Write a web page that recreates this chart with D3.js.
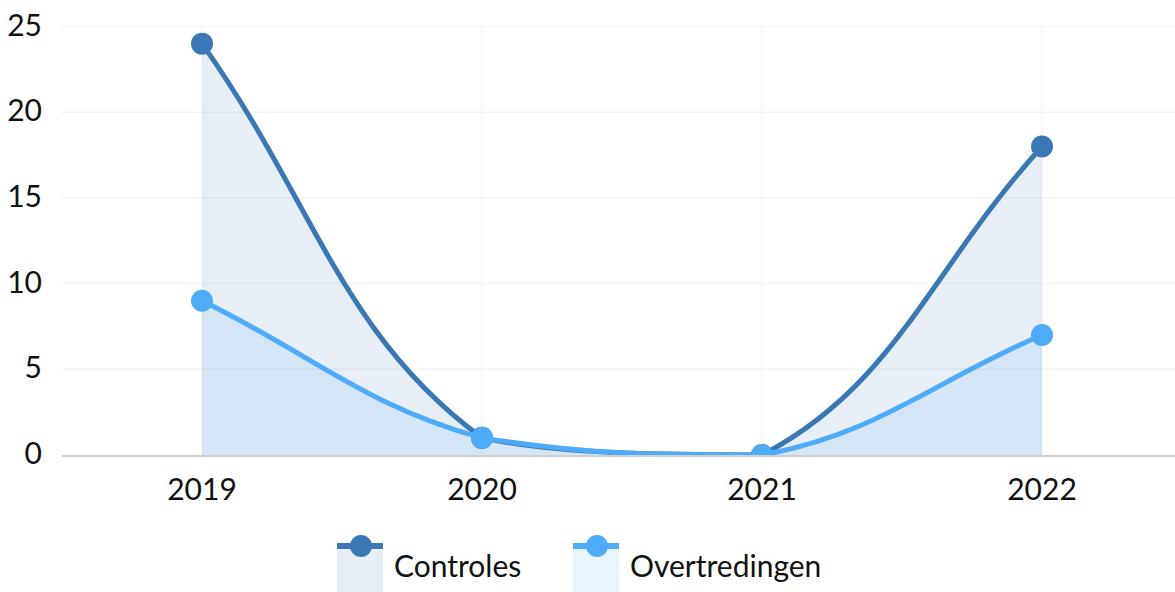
<!DOCTYPE html>
<html>
<head>
<meta charset="utf-8">
<script src="https://cdn.jsdelivr.net/npm/d3@7"></script>
<style>
  html, body { margin: 0; padding: 0; background: #fff; }
  svg { display: block; font-family: Lato, "Open Sans", sans-serif; }
</style>
</head>
<body>
<svg id="chart" width="1175" height="592"></svg>
<script>
const categories = ["2019", "2020", "2021", "2022"];
const controles = [24, 1, 0, 18];
const overtredingen = [9, 1, 0, 7];
const yTicks = [0, 5, 10, 15, 20, 25];
const seriesNames = ["Controles", "Overtredingen"];
const seriesColors = ["#3a77b5", "#4eabf8"];

const series = [
  { name: seriesNames[0], values: controles, color: seriesColors[0] },
  { name: seriesNames[1], values: overtredingen, color: seriesColors[1] }
];

const plotLeft = 62, plotRight = 1175, plotTop = 26.5, plotBottom = 455;

// Tension spline (tension 0.4) with control points capped to the plot area
function TensionCurve(context) { this._context = context; }
TensionCurve.prototype = {
  areaStart() { this._line = 0; },
  areaEnd() { this._line = NaN; },
  lineStart() { this._p = []; },
  point(x, y) { this._p.push({ x: +x, y: +y }); },
  lineEnd() {
    const p = this._p, n = p.length, c = this._context, t = 0.4;
    const cap = (v, lo, hi) => Math.max(lo, Math.min(hi, v));
    if (n) {
      const cps = p.map((cur, i) => {
        const prev = i > 0 ? p[i - 1] : cur;
        const next = i < n - 1 ? p[i + 1] : cur;
        const d01 = Math.hypot(cur.x - prev.x, cur.y - prev.y);
        const d12 = Math.hypot(next.x - cur.x, next.y - cur.y);
        let s01 = d01 / (d01 + d12), s12 = d12 / (d01 + d12);
        if (isNaN(s01)) s01 = 0;
        if (isNaN(s12)) s12 = 0;
        const fa = t * s01, fb = t * s12;
        return {
          px: cap(cur.x - fa * (next.x - prev.x), plotLeft, plotRight),
          py: cap(cur.y - fa * (next.y - prev.y), plotTop, plotBottom),
          nx: cap(cur.x + fb * (next.x - prev.x), plotLeft, plotRight),
          ny: cap(cur.y + fb * (next.y - prev.y), plotTop, plotBottom)
        };
      });
      this._line ? c.lineTo(p[0].x, p[0].y) : c.moveTo(p[0].x, p[0].y);
      for (let i = 1; i < n; i++) {
        c.bezierCurveTo(cps[i - 1].nx, cps[i - 1].ny, cps[i].px, cps[i].py, p[i].x, p[i].y);
      }
    }
    if (this._line || (this._line !== 0 && n === 1)) c.closePath();
    this._line = 1 - this._line;
  }
};
const curveTension = ctx => new TensionCurve(ctx);

const svg = d3.select("#chart");

svg.append("defs").append("clipPath").attr("id", "plotClip")
  .append("rect")
  .attr("x", plotLeft).attr("y", 0)
  .attr("width", plotRight - plotLeft).attr("height", plotBottom);

const x = d3.scalePoint().domain(categories).range([plotLeft, 1182]).padding(0.5);
const y = d3.scaleLinear().domain([0, 25]).range([plotBottom, plotTop]);

// horizontal gridlines
svg.append("g").selectAll("line").data(yTicks.filter(d => d > 0)).join("line")
  .attr("x1", plotLeft).attr("x2", plotRight)
  .attr("y1", d => y(d)).attr("y2", d => y(d))
  .attr("stroke", "#f3f3f3").attr("stroke-width", 1.5);

// vertical gridlines
svg.append("g").selectAll("line").data(categories).join("line")
  .attr("x1", d => x(d)).attr("x2", d => x(d))
  .attr("y1", plotTop).attr("y2", plotBottom)
  .attr("stroke", "#f3f3f3").attr("stroke-width", 1.2);

// y-axis labels
svg.append("g").selectAll("text").data(yTicks).join("text")
  .attr("x", 42).attr("y", d => y(d) + 9)
  .attr("text-anchor", "end")
  .attr("font-size", 30).attr("fill", "#111")
  .text(d => d);

// x-axis labels
svg.append("g").selectAll("text").data(categories).join("text")
  .attr("x", d => x(d)).attr("y", 500)
  .attr("text-anchor", "middle")
  .attr("font-size", 30).attr("fill", "#111")
  .text(d => d);

const area = d3.area()
  .x((d, i) => x(categories[i]))
  .y0(y(0)).y1(d => y(d))
  .curve(curveTension);
const line = d3.line()
  .x((d, i) => x(categories[i]))
  .y(d => y(d))
  .curve(curveTension);

const plot = svg.append("g").attr("clip-path", "url(#plotClip)");

// areas
plot.append("g").selectAll("path").data(series).join("path")
  .attr("d", s => area(s.values))
  .attr("fill", s => s.color).attr("fill-opacity", 0.12);

// lines and points
series.forEach(s => {
  const g = plot.append("g");
  g.append("path")
    .attr("d", line(s.values))
    .attr("fill", "none").attr("stroke", s.color)
    .attr("stroke-width", 5).attr("stroke-linecap", "round");
  g.selectAll("circle").data(s.values).join("circle")
    .attr("cx", (d, i) => x(categories[i]))
    .attr("cy", d => y(d))
    .attr("r", 11)
    .attr("fill", s.color);
});

// x axis line
svg.append("line")
  .attr("x1", plotLeft).attr("x2", plotRight)
  .attr("y1", y(0) + 1).attr("y2", y(0) + 1)
  .attr("stroke", "#cfcfcf").attr("stroke-width", 2);

// legend
const legendX = [337, 573];
const lg = svg.append("g").selectAll("g").data(series).join("g")
  .attr("transform", (d, i) => `translate(${legendX[i]},546)`);
lg.append("rect")
  .attr("x", 0).attr("y", 0).attr("width", 46).attr("height", 50)
  .attr("fill", d => d.color).attr("fill-opacity", 0.12);
lg.append("line")
  .attr("x1", 0).attr("x2", 46).attr("y1", 0).attr("y2", 0)
  .attr("stroke", d => d.color).attr("stroke-width", 6);
lg.append("circle")
  .attr("cx", 24).attr("cy", 0).attr("r", 11)
  .attr("fill", d => d.color);
lg.append("text")
  .attr("x", 57).attr("y", 31)
  .attr("font-size", 30).attr("fill", "#111")
  .text(d => d.name);
</script>
</body>
</html>
